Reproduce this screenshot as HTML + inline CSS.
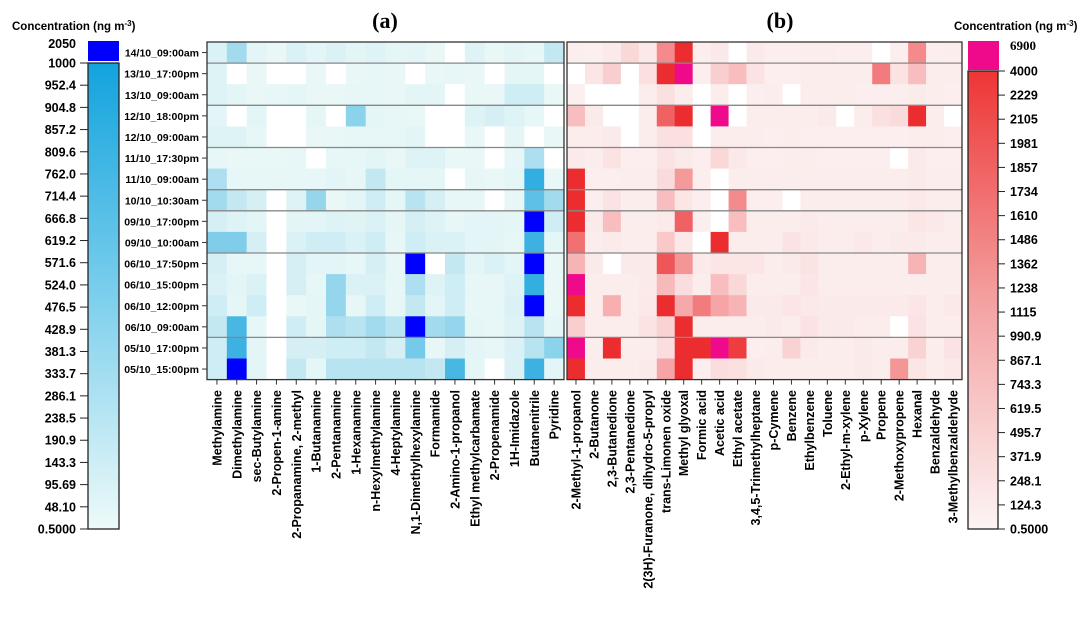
<!DOCTYPE html>
<html><head><meta charset="utf-8">
<style>
html,body{margin:0;padding:0;background:#fff;}
svg{display:block;font-family:"Liberation Sans",Arial,sans-serif;}
.b{font-weight:bold;}
</style></head>
<body>
<svg id="chart" width="1087" height="620" viewBox="0 0 1087 620"></svg>
<script>
const rowLabels=["14/10_09:00am","13/10_17:00pm","13/10_09:00am","12/10_18:00pm","12/10_09:00am","11/10_17:30pm","11/10_09:00am","10/10_10:30am","09/10_17:00pm","09/10_10:00am","06/10_17:50pm","06/10_15:00pm","06/10_12:00pm","06/10_09:00am","05/10_17:00pm","05/10_15:00pm"];
const colsA=["Methylamine","Dimethylamine","sec-Butylamine","2-Propen-1-amine","2-Propanamine, 2-methyl","1-Butanamine","2-Pentanamine","1-Hexanamine","n-Hexylmethylamine","4-Heptylamine","N,1-Dimethylhexylamine","Formamide","2-Amino-1-propanol","Ethyl methylcarbamate","2-Propenamide","1H-Imidazole","Butanenitrile","Pyridine"];
const colsB=["2-Methyl-1-propanol","2-Butanone","2,3-Butanedione","2,3-Pentanedione","2(3H)-Furanone, dihydro-5-propyl","trans-Limonen oxide","Methyl glyoxal","Formic acid","Acetic acid","Ethyl acetate","3,4,5-Trimethylheptane","p-Cymene","Benzene","Ethylbenzene","Toluene","2-Ethyl-m-xylene","p-Xylene","Propene","2-Methoxypropene","Hexanal","Benzaldehyde","3-Methylbenzaldehyde"];
const valsA=[
[100,350,60,30,100,60,100,60,80,50,60,30,0,80,30,60,40,200],
[80,0,30,0,0,30,0,30,40,30,0,30,40,30,0,50,50,0],
[80,60,30,40,50,30,30,40,40,30,60,60,0,30,30,150,150,30],
[60,0,60,0,0,50,0,450,50,40,30,0,0,80,120,80,40,0],
[80,80,40,0,0,30,30,40,40,40,60,0,0,30,0,50,0,30],
[40,30,30,30,40,0,40,40,60,30,80,80,30,30,0,40,300,0],
[300,40,40,40,40,40,60,40,200,50,50,50,0,40,30,50,850,30],
[350,200,120,0,80,400,30,60,150,50,250,120,40,40,0,40,650,350],
[120,80,60,0,60,60,80,70,100,50,120,80,40,60,60,50,2000,150],
[500,500,120,0,100,150,150,100,150,40,150,100,100,60,60,40,800,50],
[120,40,40,0,120,60,60,40,120,40,2000,0,200,60,100,60,2000,30],
[100,60,100,0,120,40,400,100,100,40,300,80,150,40,40,80,850,30],
[150,50,150,0,30,50,400,40,150,40,200,60,150,40,40,100,2000,30],
[200,750,40,0,150,50,300,250,350,250,2000,350,400,50,40,80,250,50],
[150,800,60,0,120,120,150,150,200,120,550,40,120,60,40,100,250,450],
[150,2000,60,0,200,50,250,250,250,250,250,200,750,50,0,100,800,60]];
const valsB=[
[80,60,150,500,200,2000,3800,80,200,0,150,80,80,100,100,80,80,0,80,2000,80,100],
[0,250,700,0,350,3800,6900,80,700,1000,300,80,80,100,100,100,100,2300,300,1000,100,100],
[60,0,0,0,100,350,100,0,100,0,80,100,0,100,100,100,80,80,80,120,100,80],
[1000,150,0,0,100,2800,3800,0,6900,0,100,100,100,100,150,0,100,350,450,3800,100,0],
[100,100,150,0,100,350,350,0,100,100,100,80,100,80,80,80,80,80,80,100,100,80],
[150,100,300,80,80,300,150,80,500,200,80,80,100,100,80,80,80,80,0,150,80,80],
[3800,80,80,100,100,450,1700,80,0,100,100,100,100,100,100,100,100,100,100,150,100,100],
[3800,80,300,100,100,1000,250,80,0,2000,80,80,0,100,100,100,100,100,100,200,100,100],
[3800,150,1000,100,100,150,2800,80,0,1000,100,100,100,150,100,100,100,100,100,250,200,100],
[2500,100,150,100,100,800,200,0,3800,100,100,100,300,200,100,100,200,100,150,150,100,100],
[1200,150,0,150,150,3000,1800,150,250,250,250,100,150,300,100,100,100,100,100,1200,100,100],
[6900,100,100,100,150,1100,400,100,1000,500,100,100,100,250,100,100,100,100,100,100,100,100],
[3800,100,1300,100,200,3800,1400,2300,1500,1200,150,150,250,200,150,150,150,150,150,250,100,200],
[700,100,100,100,300,600,3800,100,100,100,100,150,100,300,150,150,100,100,0,300,100,100],
[6900,100,3800,100,100,400,3800,3800,6900,3500,80,100,600,150,100,100,150,100,100,600,100,300],
[3800,100,100,100,150,1500,3800,80,400,350,150,100,100,100,100,100,150,100,1800,250,100,200]];
const ticksA=["1000","952.4","904.8","857.2","809.6","762.0","714.4","666.8","619.2","571.6","524.0","476.5","428.9","381.3","333.7","286.1","238.5","190.9","143.3","95.69","48.10","0.5000"];
const ticksB=["4000","2229","2105","1981","1857","1734","1610","1486","1362","1238","1115","990.9","867.1","743.3","619.5","495.7","371.9","248.1","124.3","0.5000"];
const sepRows=[1,3,5,7,8,10,14];

const NS="http://www.w3.org/2000/svg";
const svg=document.getElementById('chart');
function mk(t,a,p){const e=document.createElementNS(NS,t);for(const k in a)e.setAttribute(k,a[k]);(p||svg).appendChild(e);return e;}
function lerp(a,b,t){return a.map((v,i)=>Math.round(v+(b[i]-v)*t));}
function rgb(c){return `rgb(${c[0]},${c[1]},${c[2]})`;}
function colA(v){if(v>1000)return "#0000ff";if(v<=0)return "#ffffff";const t=Math.min(v/1000,1);return rgb(lerp([240,250,248],[16,160,220],t));}
function colB(v){if(v>4000)return "#ee0a8a";if(v<=0)return "#ffffff";const t=Math.min(v/3800,1);return rgb(lerp([252,242,242],[236,45,48],t));}

const topY=42,rowH=21.1,nR=rowLabels.length;
const yRow=i=>topY+i*rowH;
function heat(x0,cw,cols,vals,cf,name){
  const g=mk('g',{});  
  vals.forEach((r,i)=>r.forEach((v,j)=>{
    const c=mk('rect',{x:x0+j*cw,y:yRow(i),width:cw+0.3,height:rowH+0.3,fill:cf(v)},g);
    
    
  }));
  const w=cw*cols.length;
  sepRows.forEach(k=>{const l=mk('line',{x1:x0,x2:x0+w,y1:yRow(k),y2:yRow(k),stroke:'#888','stroke-width':1.3},g);
    
    });
  const f=mk('rect',{x:x0,y:topY,width:w,height:nR*rowH,fill:'none',stroke:'#333','stroke-width':1.3},g);
  
  
  cols.forEach((c,j)=>{const cx=x0+(j+0.5)*cw;
    mk('line',{x1:cx,x2:cx,y1:topY+nR*rowH,y2:topY+nR*rowH+5,stroke:'#333'},g);
    const t=mk('text',{x:0,y:0,transform:`translate(${cx+4.5},390) rotate(-90)`,'text-anchor':'end','font-size':12.5,'class':'b'},g);
    t.textContent=c;
    
    
  });
}
heat(207,357/18,colsA,valsA,colA,'heatmap-a');
heat(567,395/22,colsB,valsB,colB,'heatmap-b');
rowLabels.forEach((r,i)=>{const cy=yRow(i)+rowH/2;
  mk('line',{x1:202,x2:207,y1:cy,y2:cy,stroke:'#333'});
  const t=mk('text',{x:199,y:cy+4,'text-anchor':'end','font-size':10.5,'class':'b'});t.textContent=r;
  
  
});
[["(a)",385],["(b)",780]].forEach(([s,x])=>{const t=mk('text',{x:x,y:28,'text-anchor':'middle','font-size':22,'font-weight':'bold','font-family':'"Liberation Serif",serif'});t.textContent=s;
  
  });
const d=mk('defs',{});
const gA=mk('linearGradient',{id:'ga',x1:0,y1:0,x2:0,y2:1},d);
mk('stop',{offset:0,'stop-color':'#12a3dd'},gA);mk('stop',{offset:0.5,'stop-color':'#7ccfec'},gA);mk('stop',{offset:1,'stop-color':'#eefaf9'},gA);
const gB=mk('linearGradient',{id:'gb',x1:0,y1:0,x2:0,y2:1},d);
mk('stop',{offset:0,'stop-color':'#ee3535'},gB);mk('stop',{offset:0.5,'stop-color':'#f4a0a0'},gB);mk('stop',{offset:1,'stop-color':'#fdf4f4'},gB);
let t=mk('text',{x:12,y:30,'font-size':11.5,'class':'b'});t.innerHTML='Concentration (ng m<tspan dy="-4" font-size="8">-3</tspan><tspan dy="4">)</tspan>';


let r=mk('rect',{x:88,y:41,width:31,height:20,fill:'#0000ff'});


t=mk('text',{x:76,y:48,'text-anchor':'end','font-size':12.5,'class':'b'});t.textContent='2050';


r=mk('rect',{x:88,y:63,width:31,height:466,fill:'url(#ga)',stroke:'#222','stroke-width':1.3});


ticksA.forEach((s,i)=>{const y=63+i*466/(ticksA.length-1);
  mk('line',{x1:80,x2:88,y1:y,y2:y,stroke:'#222'});
  const tt=mk('text',{x:76,y:y+4.5,'text-anchor':'end','font-size':12.5,'class':'b'});tt.textContent=s;
  
  });
t=mk('text',{x:954,y:30,'font-size':11.5,'class':'b'});t.innerHTML='Concentration (ng m<tspan dy="-4" font-size="8">-3</tspan><tspan dy="4">)</tspan>';


r=mk('rect',{x:968,y:41,width:31,height:29,fill:'#ee0a8a'});


t=mk('text',{x:1010,y:50,'font-size':13,'font-weight':'bold','font-family':'"Liberation Serif",serif'});t.textContent='6900';


r=mk('rect',{x:968,y:71,width:30,height:458,fill:'url(#gb)',stroke:'#222','stroke-width':1.3});


ticksB.forEach((s,i)=>{const y=71+i*458/(ticksB.length-1);
  mk('line',{x1:998,x2:1005,y1:y,y2:y,stroke:'#222'});
  const tt=mk('text',{x:1010,y:y+4.5,'font-size':12.5,'class':'b'});tt.textContent=s;
  
  });
</script>
</body></html>
